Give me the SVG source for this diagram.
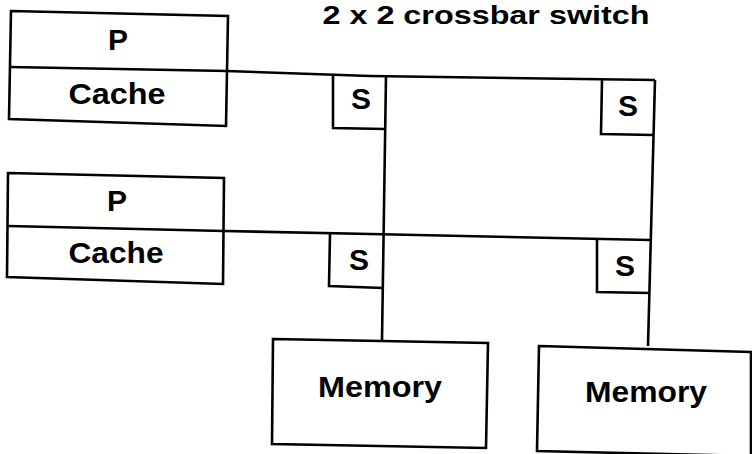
<svg xmlns="http://www.w3.org/2000/svg" width="752" height="454" viewBox="0 0 752 454">
<style>
.b{fill:none;stroke:#000;stroke-width:2.6;stroke-linejoin:miter}
.l{fill:none;stroke:#000;stroke-width:2.6}
text{font-family:"Liberation Sans",Arial,sans-serif;font-weight:bold;fill:#000;text-anchor:middle}
.t{font-size:30px}
</style>
<rect width="752" height="454" fill="#fff"/>
<text x="486" y="24" style="font-size:25px" textLength="327" lengthAdjust="spacingAndGlyphs">2 x 2 crossbar switch</text>
<g id="connectors">
<polyline class="l" points="226,71 370,76 655,80"/>
<polyline class="l" points="224,231 370,234 650,240"/>
<line class="l" x1="386" y1="76" x2="382" y2="340"/>
<line class="l" x1="655" y1="80" x2="648" y2="346"/>
</g>
<g id="proc1">
<polygon class="b" points="11,11 228,16 226,126 9,119"/>
<line class="l" x1="10" y1="67" x2="227" y2="71"/>
<text class="t" x="118" y="50">P</text>
<text class="t" x="117" y="104" textLength="97" lengthAdjust="spacingAndGlyphs">Cache</text>
</g>
<g id="proc2">
<polygon class="b" points="8,173 224,178 223,284 7,277"/>
<line class="l" x1="8" y1="226" x2="224" y2="231"/>
<text class="t" x="117" y="211">P</text>
<text class="t" x="116" y="263" textLength="95" lengthAdjust="spacingAndGlyphs">Cache</text>
</g>
<g id="s11">
<polyline class="b" points="333,76 333,128 385,129"/>
<text class="t" x="361" y="109">S</text>
</g>
<g id="s12">
<polyline class="b" points="602,80 601,134 654,135"/>
<text class="t" x="628" y="116">S</text>
</g>
<g id="s21">
<polyline class="b" points="330,234 329,286 383,288"/>
<text class="t" x="359" y="270">S</text>
</g>
<g id="s22">
<polyline class="b" points="597,239 597,292 650,293"/>
<text class="t" x="625" y="276">S</text>
</g>
<g id="mem1">
<polygon class="b" points="273,339 488,343 486,448 272,444"/>
<text class="t" x="380" y="397" textLength="124" lengthAdjust="spacingAndGlyphs">Memory</text>
</g>
<g id="mem2">
<polygon class="b" points="539,346 751,352 751,456 537,451"/>
<text class="t" x="646" y="402" textLength="122" lengthAdjust="spacingAndGlyphs">Memory</text>
</g>
</svg>
